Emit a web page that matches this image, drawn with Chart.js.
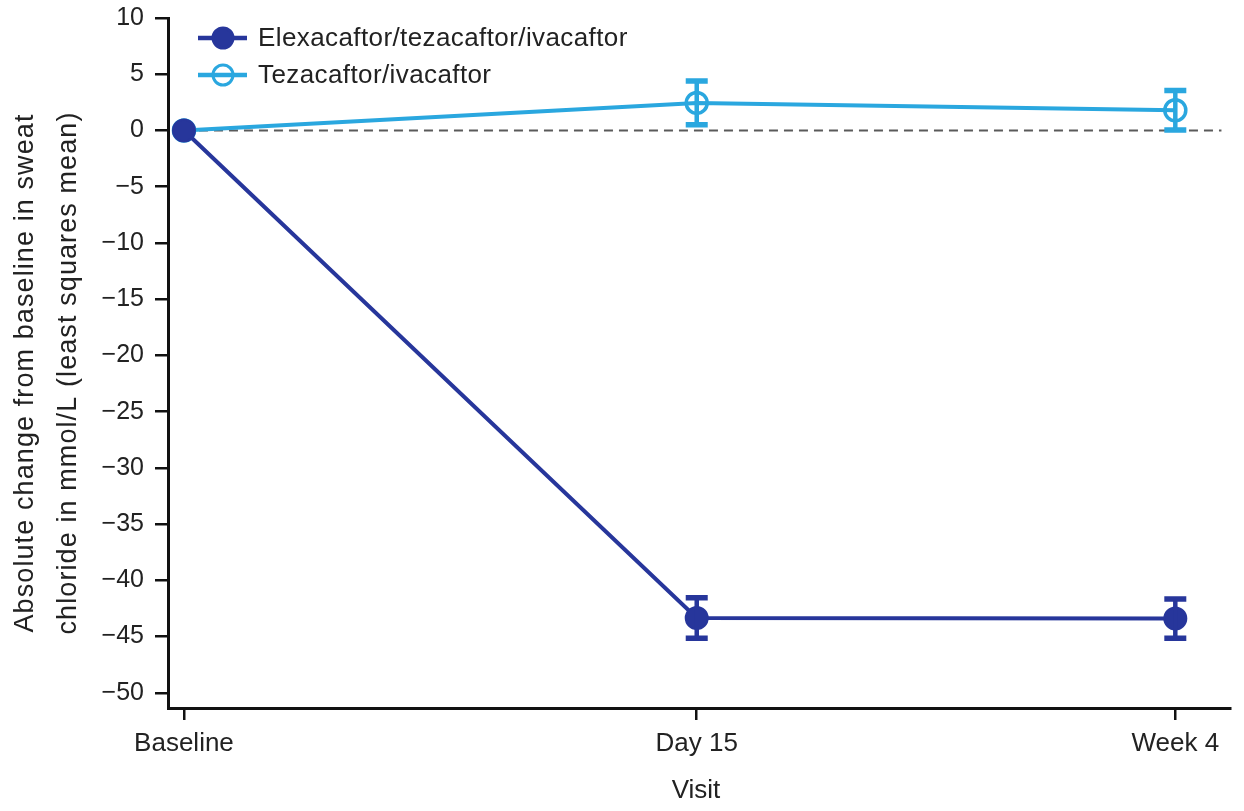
<!DOCTYPE html>
<html>
<head>
<meta charset="utf-8">
<script src="https://cdn.jsdelivr.net/npm/chart.js@4.4.1/dist/chart.umd.min.js"></script>
<style>
  html, body { margin: 0; padding: 0; background: #fff; }
  #wrap { width: 1244px; height: 811px; position: relative; }
</style>
</head>
<body>
<div id="wrap"><canvas id="c"></canvas></div>
<script>
// ---- data ----
const visitDays = [0, 15, 29];
const visitLabels = ['Baseline', 'Day 15', 'Week 4'];
const seriesNames = ['Elexacaftor/tezacaftor/ivacaftor', 'Tezacaftor/ivacaftor'];
const elxMean = [0, -43.35, -43.4];
const elxErr  = [0, 1.8, 1.75];
const tezMean = [0, 2.45, 1.8];
const tezErr  = [0, 1.95, 1.75];
const yTickValues = [10, 5, 0, -5, -10, -15, -20, -25, -30, -35, -40, -45, -50];
const yTitleLines = ['Absolute change from baseline in sweat', 'chloride in mmol/L (least squares mean)'];
const xTitle = 'Visit';
const refLineX = [0, 30.35];

const DARK = '#27369b';
const LIGHT = '#2aa7df';
const FONT = '"Liberation Sans", Arial, Helvetica, sans-serif';
const TXT = '#222';

const toXY = (ys) => visitDays.map((d, i) => ({ x: d, y: ys[i] }));

const errorBars = {
  id: 'errorBars',
  afterDatasetsDraw(chart) {
    const ctx = chart.ctx;
    const xs = chart.scales.x, ys = chart.scales.y;
    const sets = [[tezMean, tezErr, LIGHT], [elxMean, elxErr, DARK]];
    ctx.save();
    sets.forEach(([m, e, col]) => {
      visitDays.forEach((d, i) => {
        if (!e[i]) return;
        const px = xs.getPixelForValue(d);
        const top = ys.getPixelForValue(m[i] + e[i]);
        const bot = ys.getPixelForValue(m[i] - e[i]);
        ctx.strokeStyle = col;
        ctx.lineWidth = 4.5;
        ctx.beginPath(); ctx.moveTo(px, top); ctx.lineTo(px, bot); ctx.stroke();
        ctx.lineWidth = 5.5;
        ctx.beginPath();
        ctx.moveTo(px - 11, top); ctx.lineTo(px + 11, top);
        ctx.moveTo(px - 11, bot); ctx.lineTo(px + 11, bot);
        ctx.stroke();
      });
    });
    ctx.restore();
  }
};

const extras = {
  id: 'extras',
  afterDraw(chart) {
    const ctx = chart.ctx;
    const ca = chart.chartArea;
    ctx.save();
    // legend
    const items = [
      { name: seriesNames[0], col: DARK, fill: DARK, y: 38 },
      { name: seriesNames[1], col: LIGHT, fill: null, y: 75 }
    ];
    items.forEach(it => {
      ctx.strokeStyle = it.col;
      ctx.lineWidth = 4.5;
      ctx.beginPath(); ctx.moveTo(198, it.y); ctx.lineTo(247, it.y); ctx.stroke();
      ctx.beginPath(); ctx.arc(223, it.y, 10, 0, Math.PI * 2);
      if (it.fill) { ctx.fillStyle = it.fill; ctx.fill(); }
      ctx.lineWidth = 3; ctx.stroke();
      ctx.fillStyle = TXT;
      ctx.font = '26px ' + FONT;
      ctx.textAlign = 'left';
      ctx.textBaseline = 'middle';
      try { ctx.letterSpacing = '0.4px'; } catch (e) {}
      ctx.fillText(it.name, 258, it.y + 1);
      try { ctx.letterSpacing = '0px'; } catch (e) {}
    });
    // x title
    ctx.fillStyle = TXT;
    ctx.font = '26px ' + FONT;
    ctx.textAlign = 'center';
    ctx.textBaseline = 'middle';
    ctx.fillText(xTitle, (ca.left + ca.right) / 2 - 3, 791);
    // y title
    ctx.translate(0, 373);
    ctx.rotate(-Math.PI / 2);
    ctx.textBaseline = 'alphabetic';
    ctx.font = '27px ' + FONT;
    try { ctx.letterSpacing = '1.1px'; } catch (e) {}
    ctx.fillText(yTitleLines[0], 0, 33);
    ctx.fillText(yTitleLines[1], 0, 76);
    ctx.restore();
  }
};

new Chart(document.getElementById('c'), {
  type: 'line',
  data: {
    datasets: [
      {
        label: seriesNames[0],
        data: toXY(elxMean),
        borderColor: DARK,
        backgroundColor: DARK,
        borderWidth: 4,
        pointRadius: 11,
        pointBorderWidth: 2,
        pointBackgroundColor: DARK,
        pointBorderColor: DARK,
        order: 1
      },
      {
        label: seriesNames[1],
        data: toXY(tezMean),
        borderColor: LIGHT,
        backgroundColor: 'rgba(0,0,0,0)',
        borderWidth: 4,
        pointRadius: 10.5,
        pointBorderWidth: 3.5,
        pointBackgroundColor: 'rgba(0,0,0,0)',
        pointBorderColor: LIGHT,
        order: 2
      },
      {
        label: 'ref',
        data: refLineX.map(x => ({ x: x, y: 0 })),
        borderColor: '#5a5a5a',
        borderWidth: 2,
        borderDash: [9, 6],
        pointRadius: 0,
        order: 3
      }
    ]
  },
  options: {
    responsive: true,
    maintainAspectRatio: false,
    animation: false,
    layout: { padding: { top: 18, right: 12, left: 0, bottom: 0 } },
    plugins: { legend: { display: false }, tooltip: { enabled: false } },
    scales: {
      x: {
        type: 'linear',
        min: -0.467,
        max: 30.6,
        afterFit(s) { s.height = 103; s.paddingLeft = 0; s.paddingRight = 0; },
        afterBuildTicks(s) { s.ticks = visitDays.map(v => ({ value: v })); },
        grid: { display: true, drawOnChartArea: false, drawTicks: true, tickLength: 12, color: '#111', lineWidth: 2.5 },
        border: { display: true, color: '#111', width: 3 },
        ticks: {
          padding: 8,
          color: TXT,
          font: { size: 26, family: FONT },
          maxRotation: 0,
          autoSkip: false,
          callback: (v) => { const i = visitDays.indexOf(v); return i >= 0 ? visitLabels[i] : ''; }
        },
        title: { display: false }
      },
      y: {
        type: 'linear',
        min: -51.35,
        max: 10,
        afterFit(s) { s.width = 168; s.paddingTop = 0; s.paddingBottom = 0; },
        afterBuildTicks(s) { s.ticks = yTickValues.map(v => ({ value: v })); },
        grid: { display: true, drawOnChartArea: false, drawTicks: true, tickLength: 13, color: '#111', lineWidth: 2.5 },
        border: { display: true, color: '#111', width: 3 },
        ticks: {
          padding: 11,
          color: TXT,
          font: { size: 25, family: FONT },
          autoSkip: false,
          callback: (v) => v < 0 ? '\u2212' + Math.abs(v) : String(v)
        },
        title: { display: false }
      }
    }
  },
  plugins: [errorBars, extras]
});
</script>
</body>
</html>
